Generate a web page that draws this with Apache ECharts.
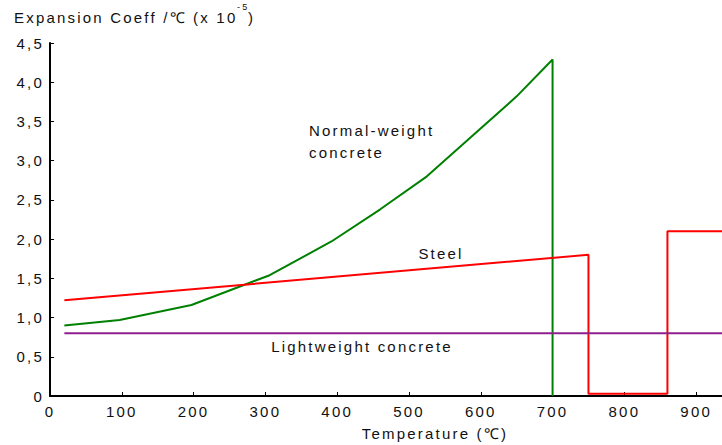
<!DOCTYPE html>
<html>
<head>
<meta charset="utf-8">
<script src="https://cdn.jsdelivr.net/npm/echarts@6/dist/echarts.min.js"></script>
<style>
  html, body { margin: 0; padding: 0; background: #fff; }
  #chart { width: 722px; height: 445px; }
  #chart text { letter-spacing: 2.2px; }
</style>
</head>
<body>
<div id="chart"></div>
<script>
// Thermal expansion coefficient (x 10^-5 per °C) against temperature
const normalWeightConcrete = [
  [20, 0.90], [97, 0.97], [197, 1.16], [306, 1.54], [392, 1.97],
  [460, 2.38], [525, 2.80], [650, 3.82], [700, 4.29], [700, 0]
];
const steel = [
  [20, 1.22], [750, 1.80], [750, 0.03], [860, 0.03], [860, 2.10], [936, 2.10]
];
const lightweightConcrete = [[20, 0.80], [936, 0.80]];

const xTicks = { min: 0, max: 936, step: 100 };
const yTicks = { min: 0, max: 4.5, step: 0.5 };

const FONT = 'Liberation Sans, Arial, sans-serif';
const chart = echarts.init(document.getElementById('chart'), null, { renderer: 'svg' });

function yLabel(v) {
  return v === 0 ? '0' : v.toFixed(1).replace('.', ',');
}

chart.setOption({
  animation: false,
  backgroundColor: '#fff',
  textStyle: { fontFamily: FONT },
  grid: { left: 50, right: 0, top: 43, bottom: 49 },
  xAxis: {
    type: 'value',
    min: xTicks.min, max: xTicks.max, interval: xTicks.step,
    axisLine: { show: true, lineStyle: { color: '#000', width: 2 } },
    axisTick: { show: true, inside: true, length: 4, lineStyle: { color: '#000', width: 1 } },
    axisLabel: {
      color: '#111', fontSize: 15, fontFamily: FONT, margin: 8,
      showMaxLabel: false,
      formatter: v => String(v)
    },
    splitLine: { show: false }
  },
  yAxis: {
    type: 'value',
    min: yTicks.min, max: yTicks.max, interval: yTicks.step,
    axisLine: { show: true, lineStyle: { color: '#000', width: 2 } },
    axisTick: { show: true, inside: true, length: 4, lineStyle: { color: '#000', width: 1 } },
    axisLabel: { color: '#111', fontSize: 15, fontFamily: FONT, margin: 6, formatter: yLabel },
    splitLine: { show: false }
  },
  series: [
    {
      name: 'Normal-weight concrete', type: 'line', data: normalWeightConcrete,
      showSymbol: false, symbol: 'none', clip: true,
      lineStyle: { color: '#008000', width: 2 }
    },
    {
      name: 'Steel', type: 'line', data: steel,
      showSymbol: false, symbol: 'none', clip: true,
      lineStyle: { color: '#ff0000', width: 2 }
    },
    {
      name: 'Lightweight concrete', type: 'line', data: lightweightConcrete,
      showSymbol: false, symbol: 'none', clip: true,
      lineStyle: { color: '#8e1f8e', width: 2 }
    }
  ],
  graphic: [
    { type: 'text', left: 14, top: 10,
      style: { text: 'Expansion Coeff /℃ (x 10', font: '15px ' + FONT, fill: '#111' } },
    { type: 'text', left: 237, top: 2,
      style: { text: '-5', font: '9px ' + FONT, fill: '#111' } },
    { type: 'text', left: 248, top: 10,
      style: { text: ')', font: '15px ' + FONT, fill: '#111' } },
    { type: 'text', left: 309, top: 119,
      style: { text: 'Normal-weight\nconcrete', font: '15px ' + FONT, fill: '#111', lineHeight: 22 } },
    { type: 'text', x: 441, y: 253,
      style: { text: 'Steel', font: '15px ' + FONT, fill: '#111', align: 'center', verticalAlign: 'middle' } },
    { type: 'text', x: 362, y: 346,
      style: { text: 'Lightweight concrete', font: '15px ' + FONT, fill: '#111', align: 'center', verticalAlign: 'middle' } },
    { type: 'text', x: 435, y: 433,
      style: { text: 'Temperature (℃)', font: '15px ' + FONT, fill: '#111', align: 'center', verticalAlign: 'middle' } }
  ]
});
</script>
</body>
</html>
